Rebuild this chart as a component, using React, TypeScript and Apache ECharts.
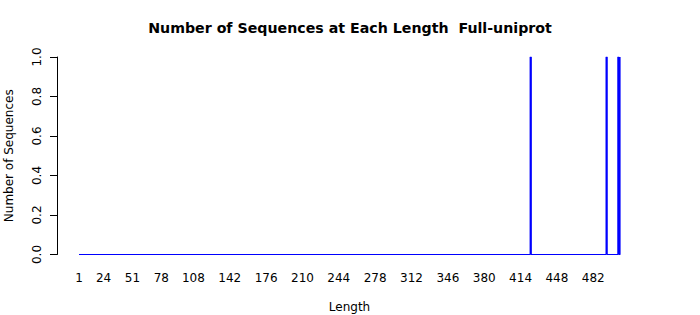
import React, { useEffect, useRef } from "react";
import * as echarts from "echarts";

// Sequence lengths shown on the x axis (1..507)
const maxLength = 507;
// Lengths that have sequences, and their counts
const spikeLengths = [423, 494, 505, 507];
const spikeCounts = [1, 1, 1, 1];
// Tick labels that R kept on the x axis
const xTickLabels = ["1", "24", "51", "78", "108", "142", "176", "210", "244", "278", "312", "346", "380", "414", "448", "482"];
const yTicks = [0, 0.2, 0.4, 0.6, 0.8, 1.0];

const titleText = "Number of Sequences at Each Length  Full-uniprot";
const xName = "Length";
const yName = "Number of Sequences";

export default function App() {
  const ref = useRef<HTMLDivElement>(null);
  useEffect(() => {
    if (!ref.current) return;
    const chart = echarts.init(ref.current, null, { renderer: "svg" });
    const categories: string[] = [];
    for (let i = 1; i <= maxLength; i++) categories.push(String(i));
    const countMap = new Map<string, number>();
    spikeLengths.forEach((l, i) => countMap.set(String(l), spikeCounts[i]));
    const values = categories.map((c) => countMap.get(c) ?? 0);
    const labelSet = new Set(xTickLabels);
    const font = "DejaVu Sans";
    chart.setOption({
      animation: false,
      backgroundColor: "#ffffff",
      textStyle: { fontFamily: font },
      title: {
        text: titleText,
        left: "center",
        top: 21,
        padding: 0,
        textStyle: { fontFamily: font, fontSize: 14.2, fontWeight: "bold", color: "#000" },
      },
      grid: { left: 79, right: 80, top: 57, bottom: 60.5, containLabel: false, outerBoundsMode: "none" },
      xAxis: {
        type: "category",
        data: categories,
        boundaryGap: false,
        axisLine: { show: false },
        axisTick: { show: false },
        splitLine: { show: false },
        axisLabel: {
          interval: (_idx: number, value: string) => labelSet.has(value),
          margin: 17,
          fontSize: 12,
          color: "#000",
          fontFamily: font,
        },
        name: xName,
        nameLocation: "middle",
        nameGap: 46,
        nameTextStyle: { fontSize: 12, color: "#000", fontFamily: font },
      },
      yAxis: {
        type: "value",
        min: 0,
        max: 1,
        interval: 0.2,
        offset: 22,
        axisLine: { show: true, lineStyle: { color: "#000", width: 1 } },
        axisTick: { show: true, length: 7, lineStyle: { color: "#000" } },
        splitLine: { show: false },
        axisLabel: {
          rotate: 90,
          margin: 14,
          fontSize: 12,
          color: "#000",
          fontFamily: font,
          formatter: (v: number) => (yTicks.includes(Math.round(v * 10) / 10) ? v.toFixed(1) : ""),
        },
        name: yName,
        nameLocation: "middle",
        nameGap: 42,
        nameTextStyle: { fontSize: 12, color: "#000", fontFamily: font },
      },
      series: [
        {
          type: "line",
          step: "end",
          data: values,
          showSymbol: false,
          symbol: "none",
          lineStyle: { color: "#0000ff", width: 1.2 },
          itemStyle: { color: "#0000ff" },
        },
      ],
    });
    return () => chart.dispose();
  }, []);
  return (
    <div
      ref={ref}
      style={{ position: "absolute", left: 0, top: 0, width: 700, height: 315 }}
    />
  );
}
